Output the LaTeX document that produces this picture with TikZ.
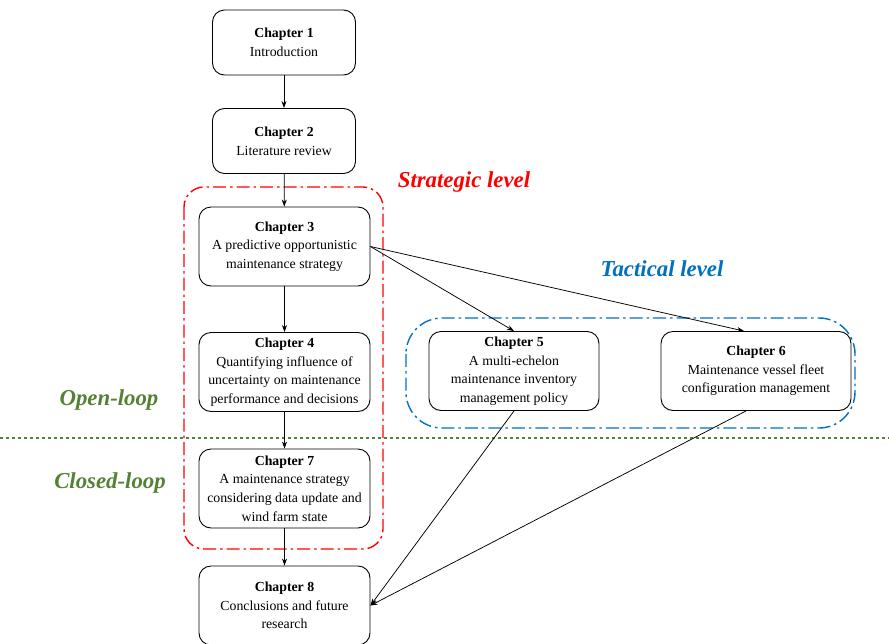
\documentclass[tikz,border=0pt]{standalone}
\usepackage{fontspec}
\setmainfont{Liberation Serif}
\usetikzlibrary{arrows.meta}
\definecolor{stratred}{RGB}{255,0,0}
\definecolor{tacblue}{RGB}{0,112,192}
\definecolor{loopgreen}{RGB}{84,130,53}
\tikzset{
  chap/.style={draw, rounded corners=12pt, line width=0.9pt, align=center,
    minimum width=171pt, minimum height=79pt, inner sep=0pt,
    font=\fontsize{13.8}{18.6}\selectfont},
  smallchap/.style={chap, minimum width=143pt, minimum height=65pt},
  arr/.style={-{Stealth[length=7pt,width=5pt]}, line width=0.75pt},
  level/.style={font=\fontsize{22.8}{26}\selectfont\bfseries\itshape},
  dashdot/.style={line width=1.4pt, dash pattern=on 13pt off 4pt on 2.5pt off 4pt}
}
\begin{document}
\begin{tikzpicture}[x=1pt,y=-1pt]
\useasboundingbox (0,0) rectangle (889,643);
% groups
\draw[dashdot, stratred, rounded corners=20pt] (184,187) rectangle (383,549);
\draw[dashdot, tacblue, rounded corners=36pt] (406,318) rectangle (855,428);
\draw[loopgreen, line width=1.4pt, dash pattern=on 3pt off 3pt] (0,438) -- (889,438);
% labels
\node[level, text=stratred] (lstrat) at (464,182) {Strategic level};
\node[level, text=tacblue] (ltac) at (662,269) {Tactical level};
\node[level, text=loopgreen] (lopen) at (109,400) {Open-loop};
\node[level, text=loopgreen] (lclosed) at (110,483) {Closed-loop};
% chapters
\node[smallchap] (c1) at (284,42.5) {\textbf{Chapter 1}\\Introduction};
\node[smallchap] (c2) at (284,141) {\textbf{Chapter 2}\\Literature review};
\node[chap] (c3) at (284.5,246.5) {\textbf{Chapter 3}\\A predictive opportunistic\\maintenance strategy};
\node[chap] (c4) at (284.5,372) {\textbf{Chapter 4}\\Quantifying influence of\\uncertainty on maintenance\\performance and decisions};
\node[chap] (c7) at (284.5,488.5) {\textbf{Chapter 7}\\A maintenance strategy\\considering data update and\\wind farm state};
\node[chap] (c8) at (284.5,605.5) {\textbf{Chapter 8}\\Conclusions and future\\research};
\node[chap, minimum width=170pt] (c5) at (514,371) {\textbf{Chapter 5}\\A multi-echelon\\maintenance inventory\\management policy};
\node[chap, minimum width=190pt] (c6) at (756,371) {\textbf{Chapter 6}\\Maintenance vessel fleet\\configuration management};
% connectors
\draw[arr] (c1) -- (c2);
\draw[arr] (c2) -- (c3);
\draw[arr] (c3) -- (c4);
\draw[arr] (c4) -- (c7);
\draw[arr] (c7) -- (c8);
\draw[arr] (c3.east) -- (c5.north);
\draw[arr] (c3.east) -- ([xshift=-12pt]c6.north);
\draw[arr] (c5.south) -- (c8.east);
\draw[arr] ([xshift=-10pt]c6.south) -- (c8.east);
\end{tikzpicture}
\end{document}
